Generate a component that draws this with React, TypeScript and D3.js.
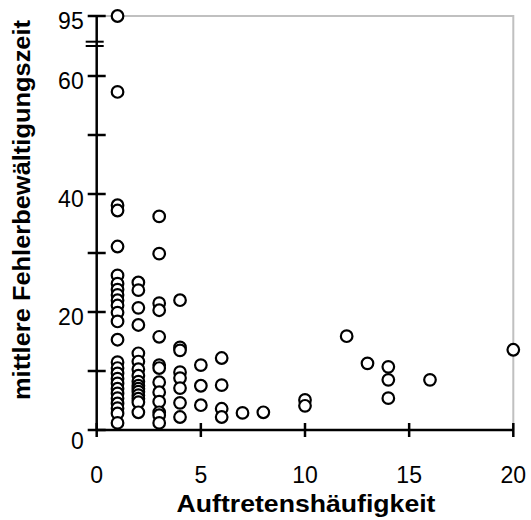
import React, { useEffect, useRef } from 'react';
import * as d3 from 'd3';

// Auftretenshäufigkeit (x) je Spalte und mittlere Fehlerbewältigungszeit (y)
const freqs = [1, 2, 3, 4, 5, 6, 7, 8, 10, 12, 13, 14, 16, 20];
const times: number[][] = [
  [95, 57.3, 38.1, 37.2, 31.1, 26.2, 24.8, 23.8, 22.9, 22.0, 21.1, 19.9, 18.4, 15.3,
    11.5, 10.5, 9.6, 8.7, 7.9, 7.0, 6.2, 5.4, 4.5, 3.7, 2.8, 1.2],
  [25.0, 23.7, 20.7, 17.8, 13.0, 11.6, 10.3, 9.2, 8.2, 7.5, 7.0, 6.5, 5.9, 5.3, 4.7, 3.0],
  [36.2, 29.9, 21.5, 20.3, 15.8, 11.0, 10.5, 8.1, 6.4, 4.8, 3.0, 2.5, 1.2],
  [22.0, 14.0, 13.5, 9.8, 8.8, 7.1, 4.6, 2.2],
  [11.0, 7.5, 4.2],
  [12.2, 7.6, 3.6, 2.2],
  [2.9],
  [3.0],
  [5.1, 4.1],
  [15.9],
  [11.3],
  [10.7, 8.5, 5.4],
  [8.5],
  [13.6],
];
const xTicks = [0, 5, 10, 15, 20];
const yTicks = [0, 10, 20, 30, 40, 50, 60, 95];
const yLabels = [0, 20, 40, 60, 95];

const font = '"Liberation Sans", Arial, sans-serif';

const App = () => {
  const ref = useRef<SVGSVGElement | null>(null);

  useEffect(() => {
    if (!ref.current) return;
    const svg = d3.select(ref.current);
    svg.selectAll('*').remove();

    const x = d3.scaleLinear().domain([0, 20]).range([96.7, 513.3]);
    // Achse unterbrochen zwischen 60 und 95
    const y = d3.scaleLinear().domain([0, 60, 95]).range([430, 76, 16]);

    const points = freqs.flatMap((f, i) => times[i].map(t => ({ f, t })));

    // grauer Rahmen oben / rechts
    svg.append('path')
      .attr('d', `M${x(0)},${y(95)}H${x(20)}V${y(0)}`)
      .attr('fill', 'none')
      .attr('stroke', '#c0c0c0')
      .attr('stroke-width', 2);

    // Achsen
    const axis = svg.append('g').attr('stroke', '#000').attr('stroke-width', 2.5);
    axis.append('line')
      .attr('x1', x(0)).attr('x2', x(0))
      .attr('y1', y(95)).attr('y2', y(0));
    axis.append('line')
      .attr('x1', x(0)).attr('x2', x(20))
      .attr('y1', y(0)).attr('y2', y(0));

    axis.selectAll('.yt')
      .data(yTicks)
      .enter()
      .append('line')
      .attr('x1', x(0) - 9).attr('x2', x(0) + 9)
      .attr('y1', d => y(d)).attr('y2', d => y(d));

    axis.selectAll('.xt')
      .data(xTicks)
      .enter()
      .append('line')
      .attr('x1', d => x(d)).attr('x2', d => x(d))
      .attr('y1', y(0) - 7).attr('y2', y(0) + 7);

    // Bruchzeichen
    const mid = (y(60) + y(95)) / 2;
    [mid - 4.3, mid].forEach(yy => {
      axis.append('line')
        .attr('x1', x(0) - 11).attr('x2', x(0) + 7)
        .attr('y1', yy).attr('y2', yy)
        .attr('stroke-width', 2);
    });

    // Tick-Beschriftungen
    svg.selectAll('.yl')
      .data(yLabels)
      .enter()
      .append('text')
      .attr('x', x(0) - 13)
      .attr('y', d => y(d) + (d === 0 ? 11 : 5))
      .attr('text-anchor', 'end')
      .attr('dominant-baseline', 'central')
      .style('font-family', font)
      .style('font-size', '23px')
      .text(d => d);

    svg.selectAll('.xl')
      .data(xTicks)
      .enter()
      .append('text')
      .attr('x', d => x(d))
      .attr('y', 483)
      .attr('text-anchor', 'middle')
      .style('font-family', font)
      .style('font-size', '23px')
      .text(d => d);

    // Achsentitel (im Original in Schreibrichtung leicht gestreckt)
    svg.append('text')
      .attr('transform', 'translate(306,512) scale(1.11,1)')
      .attr('text-anchor', 'middle')
      .style('font-family', font)
      .style('font-size', '24px')
      .style('font-weight', 'bold')
      .text('Auftretenshäufigkeit');

    svg.append('text')
      .attr('transform', 'translate(30,210) rotate(-90) scale(1.06,1)')
      .attr('text-anchor', 'middle')
      .style('font-family', font)
      .style('font-size', '24px')
      .style('font-weight', 'bold')
      .text('mittlere Fehlerbewältigungszeit');

    // Punkte
    svg.append('g')
      .selectAll('circle')
      .data(points)
      .enter()
      .append('circle')
      .attr('cx', d => x(d.f))
      .attr('cy', d => y(d.t))
      .attr('r', 5.8)
      .attr('fill', '#fff')
      .attr('stroke', '#000')
      .attr('stroke-width', 2.2);
  }, []);

  return (
    <svg
      ref={ref}
      width={531}
      height={520}
      style={{ position: 'absolute', left: 0, top: 0, background: '#fff' }}
    />
  );
};

export default App;
